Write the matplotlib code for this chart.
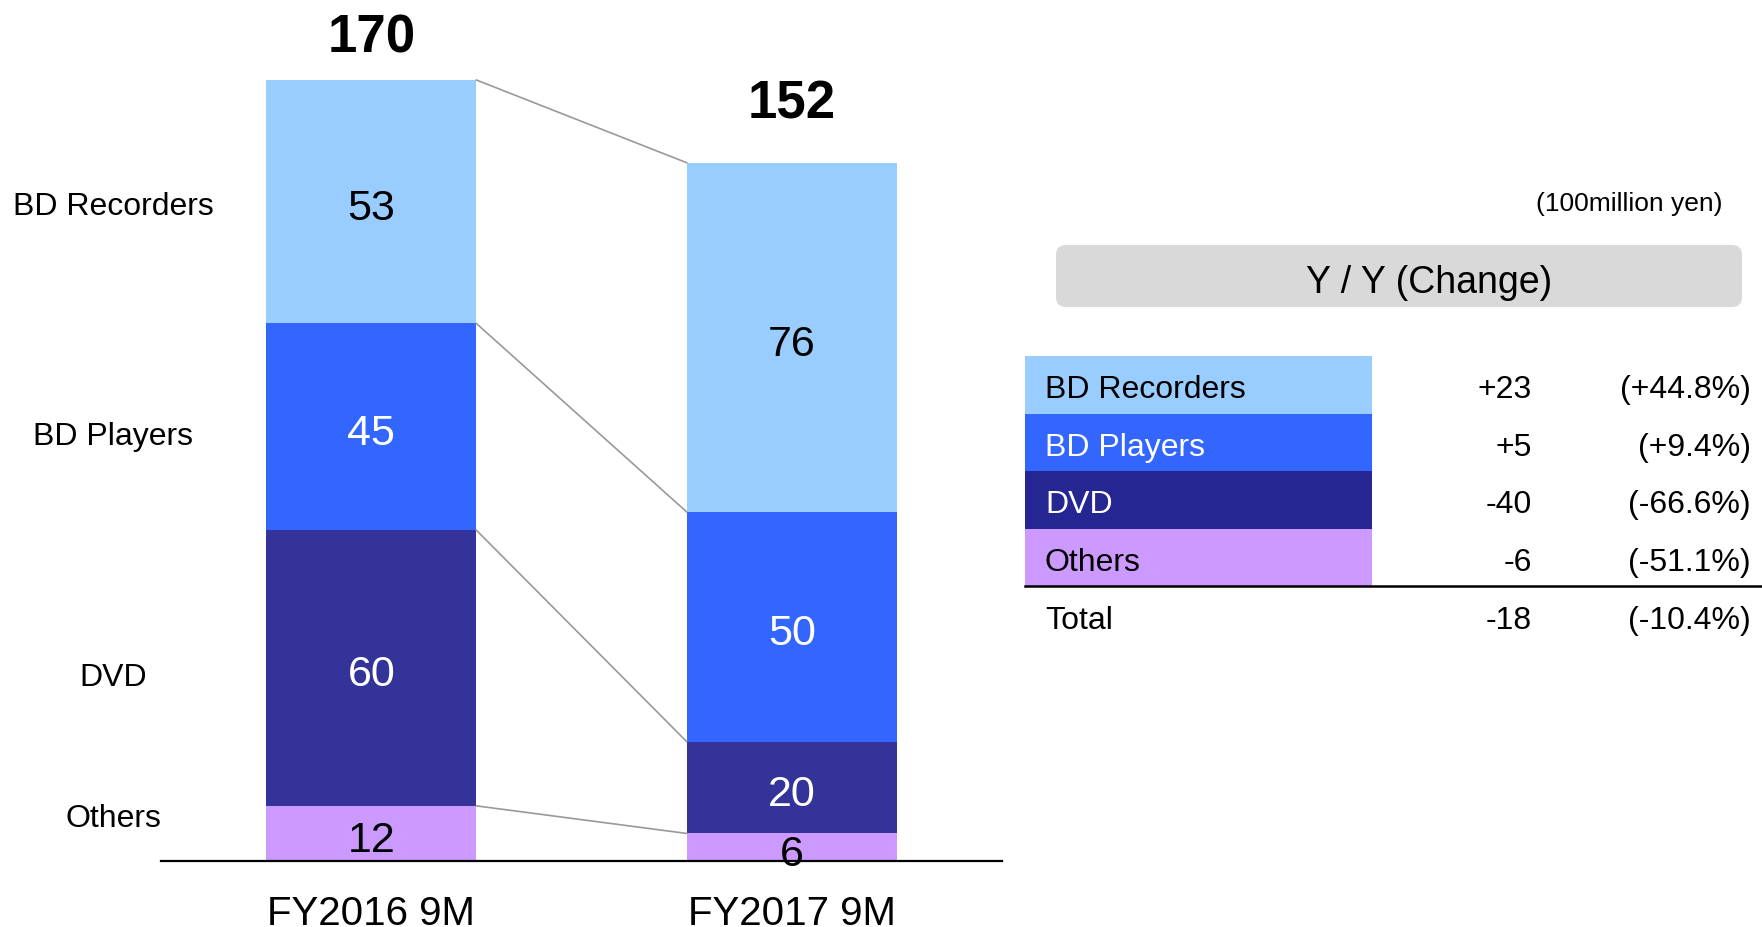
import matplotlib
matplotlib.use("Agg")
import matplotlib.pyplot as plt
from matplotlib.patches import Rectangle, FancyBboxPatch
import numpy as np

plt.rcParams['font.family'] = ['Liberation Sans', 'DejaVu Sans']

# ---- data (100 million yen) ----
periods = ["FY2016 9M", "FY2017 9M"]
segments = ["Others", "DVD", "BD Players", "BD Recorders"]   # bottom -> top
fy2016 = [12, 60, 45, 53]
fy2017 = [6, 20, 50, 76]
totals = [170, 152]
yoy_pct = ["(-51.1%)", "(-66.6%)", "(+9.4%)", "(+44.8%)"]
total_pct = "(-10.4%)"

bar_colors = ["#CC99FF", "#333399", "#3366FF", "#99CCFF"]
table_colors = ["#CC99FF", "#262693", "#3366FF", "#99CCFF"]
label_colors = ["black", "white", "white", "black"]

W, H = 1762, 928
fig = plt.figure(figsize=(W / 100, H / 100), dpi=100)

# ---- stacked bars ----
ax = fig.add_axes([161 / W, 1 - 862 / H, 841 / W, 781 / H])
ax.set_xlim(-0.5, 1.5)
ax.set_ylim(0, 170)
x = np.arange(len(periods))
bw = 0.5
data = np.array([fy2016, fy2017])
bottoms = np.zeros(2)
for k, seg in enumerate(segments):
    vals = data[:, k]
    ax.bar(x, vals, bw, bottom=bottoms, color=bar_colors[k], linewidth=0)
    for i in range(2):
        ax.text(x[i], bottoms[i] + vals[i] / 2 - 0.4, str(vals[i]), ha='center',
                va='center_baseline', fontsize=31, color=label_colors[k], clip_on=False)
    bottoms = bottoms + vals

# connector lines between segment tops
cum = np.cumsum(data, axis=1)
for k in range(len(segments)):
    ax.plot([x[0] + bw / 2, x[1] - bw / 2], [cum[0, k], cum[1, k]],
            color="#999999", lw=1.2, clip_on=False, zorder=3)

# totals above the bars
total_gap = [10.5, 14.0]
for i in range(2):
    ax.text(x[i], totals[i] + total_gap[i], str(totals[i]), ha='center', va='center_baseline',
            fontsize=38, fontweight='bold', clip_on=False)

# segment names at the left of the first bar
name_y = [10.2, 40.9, 93.2, 143.4]
for k, seg in enumerate(segments):
    ax.text(-0.614, name_y[k], seg, ha='center', va='center_baseline', fontsize=23, clip_on=False)

for s in ["top", "right", "left"]:
    ax.spines[s].set_visible(False)
ax.spines["bottom"].set_linewidth(1.6)
ax.set_yticks([])
ax.set_xticks(x)
ax.set_xticklabels(periods, fontsize=29)
ax.tick_params(axis='x', length=0, pad=24)

# ---- Y/Y change table ----
tx = fig.add_axes([0, 0, 1, 1])
tx.set_xlim(0, W)
tx.set_ylim(H, 0)
tx.axis("off")

tx.text(1723, 202, "(100million yen)", ha='right', va='center_baseline', fontsize=19)
tx.add_patch(FancyBboxPatch((1056, 246), 686, 62, boxstyle="round,pad=0,rounding_size=10",
                            facecolor="#D9D9D9", edgecolor="none"))
tx.text(1429, 279, "Y / Y (Change)", ha='center', va='center_baseline', fontsize=27)

row_top, row_h = 357, 57.5
order = [3, 2, 1, 0]
for r, k in enumerate(order):
    y0 = row_top + r * row_h
    tx.add_patch(Rectangle((1025, y0), 347, row_h, facecolor=table_colors[k], edgecolor="none"))
    yc = y0 + row_h / 2 + 1
    diff = fy2017[k] - fy2016[k]
    tx.text(1045, yc, segments[k], ha='left', va='center_baseline', fontsize=23, color=label_colors[k])
    tx.text(1532, yc, f"{diff:+d}", ha='right', va='center_baseline', fontsize=23)
    tx.text(1751, yc, yoy_pct[k], ha='right', va='center_baseline', fontsize=23)

line_y = row_top + 4 * row_h
tx.plot([1025, W], [line_y, line_y], color="black", lw=1.8)
yc = line_y + 31
tx.text(1045, yc, "Total", ha='left', va='center_baseline', fontsize=23)
tx.text(1532, yc, f"{totals[1] - totals[0]:+d}", ha='right', va='center_baseline', fontsize=23)
tx.text(1751, yc, total_pct, ha='right', va='center_baseline', fontsize=23)

fig.savefig("out.png", dpi=100)
